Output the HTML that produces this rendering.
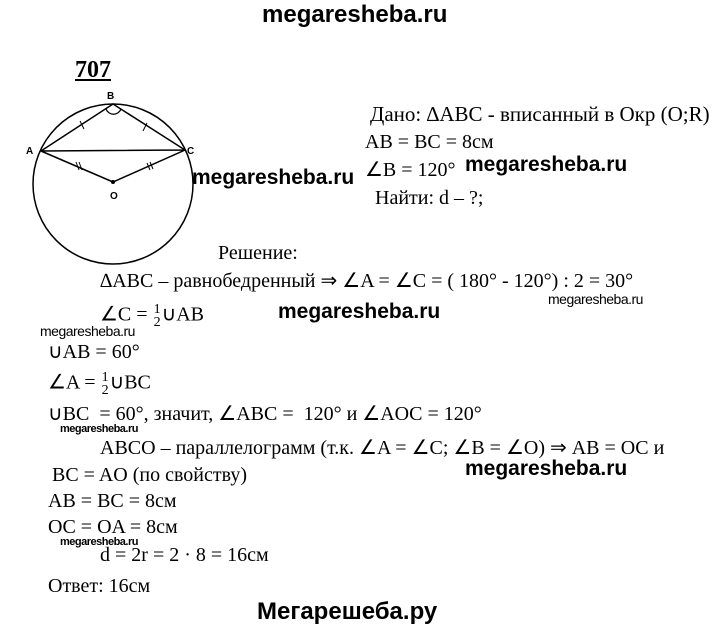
<!DOCTYPE html>
<html><head><meta charset="utf-8"><style>
body{margin:0;width:720px;height:631px;background:#fff;position:relative;overflow:hidden;font-family:"Liberation Serif",serif;color:#000}
.t{position:absolute;white-space:nowrap;font-size:20px;line-height:1}
.wm{position:absolute;white-space:nowrap;font-family:"Liberation Sans",sans-serif;font-weight:bold;font-size:21px;line-height:1}
.ws{position:absolute;white-space:nowrap;font-family:"Liberation Sans",sans-serif;font-size:14px;line-height:1;letter-spacing:-0.5px}
.fr{display:inline-block;vertical-align:middle;text-align:center;font-size:14px;line-height:13px;margin:0 1px}
.fr span{display:block}
</style></head><body>
<div class="wm" style="left:262px;top:3px;font-size:24px">megaresheba.ru</div>
<div class="t" style="left:75px;top:58px;font-weight:bold;font-size:24px;text-decoration:underline">707</div>
<svg style="position:absolute;left:0;top:0" width="720" height="631">
<circle cx="113" cy="184" r="80" fill="none" stroke="#000" stroke-width="1.5"/>
<polyline points="41,151 113,104 185,150 113,182 41,151 185,150" fill="none" stroke="#000" stroke-width="1.5"/>
<path d="M106,109 A8,8 0 0 0 121,109" fill="none" stroke="#000" stroke-width="1.2"/>
<line x1="80" y1="121" x2="84" y2="129" stroke="#000"/>
<line x1="147" y1="123" x2="143" y2="131" stroke="#000"/>
<line x1="76" y1="162" x2="79" y2="170" stroke="#000"/><line x1="79" y1="162" x2="82" y2="170" stroke="#000"/>
<line x1="147" y1="163" x2="150" y2="170" stroke="#000"/><line x1="150" y1="162" x2="153" y2="169" stroke="#000"/>
<circle cx="113" cy="182" r="2" fill="#000"/>
<text x="107" y="99" font-family="Liberation Sans" font-size="10" font-weight="bold">B</text>
<text x="26" y="154" font-family="Liberation Sans" font-size="10" font-weight="bold">A</text>
<text x="187" y="154" font-family="Liberation Sans" font-size="10" font-weight="bold">C</text>
<text x="110" y="199" font-family="Liberation Sans" font-size="10" font-weight="bold">O</text>
</svg>
<div class="t" style="left:370px;top:104px;font-size:21px">Дано: ∆ABC - вписанный в Окр (O;R)</div>
<div class="t" style="left:365px;top:132px">AB = BC = 8см</div>
<div class="t" style="left:365px;top:160px">∠B = 120°</div>
<div class="wm" style="left:465px;top:154px">megaresheba.ru</div>
<div class="wm" style="left:192px;top:167px">megaresheba.ru</div>
<div class="t" style="left:375px;top:188px">Найти: d – ?;</div>
<div class="t" style="left:218px;top:243px">Решение:</div>
<div class="t" style="left:100px;top:271px">∆ABC – равнобедренный ⇒ ∠A = ∠C = ( 180° - 120°) : 2 = 30°</div>
<div class="ws" style="left:548px;top:292px">megaresheba.ru</div>
<div class="wm" style="left:278px;top:301px">megaresheba.ru</div>
<div class="t" style="left:100px;top:303px">∠C = <span class="fr"><span>1</span><span>2</span></span>∪AB</div>
<div class="ws" style="left:40px;top:324px">megaresheba.ru</div>
<div class="t" style="left:48px;top:342px">∪AB = 60°</div>
<div class="t" style="left:48px;top:371px">∠A = <span class="fr"><span>1</span><span>2</span></span>∪BC</div>
<div class="t" style="left:48px;top:404px">∪BC&nbsp; = 60°, значит, ∠ABC =&nbsp; 120° и ∠AOC = 120°</div>
<div class="ws" style="left:60px;top:424px;font-size:11px;font-weight:bold">megaresheba.ru</div>
<div class="t" style="left:100px;top:438px">ABCO – параллелограмм (т.к. ∠A = ∠C; ∠B = ∠O) ⇒ AB = OC и</div>
<div class="t" style="left:52px;top:465px">BC = AO (по свойству)</div>
<div class="wm" style="left:465px;top:458px">megaresheba.ru</div>
<div class="t" style="left:48px;top:491px">AB = BC = 8см</div>
<div class="t" style="left:48px;top:517px">OC = OA = 8см</div>
<div class="ws" style="left:60px;top:537px;font-size:11px;font-weight:bold">megaresheba.ru</div>
<div class="t" style="left:100px;top:545px">d = 2r = 2 · 8 = 16см</div>
<div class="t" style="left:48px;top:576px">Ответ: 16см</div>
<div class="wm" style="left:257px;top:600px;font-size:24px">Мегарешеба.ру</div>
</body></html>
